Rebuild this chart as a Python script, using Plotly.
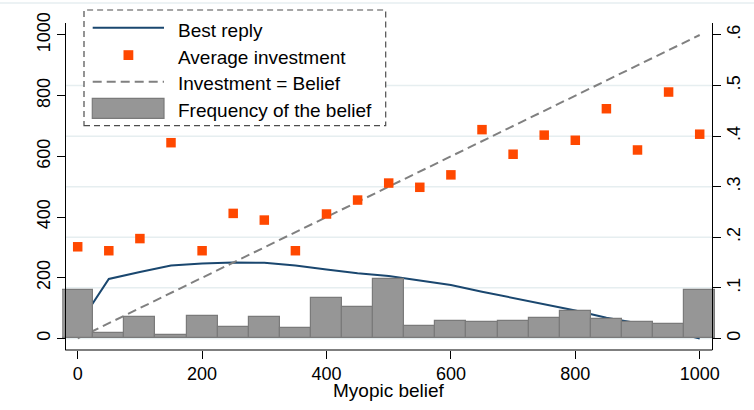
import plotly.graph_objects as go

# ---- data -------------------------------------------------------------
belief = [0, 50, 100, 150, 200, 250, 300, 350, 400, 450, 500,
          550, 600, 650, 700, 750, 800, 850, 900, 950, 1000]
best_reply = [40, 196, 219, 240, 247, 250, 249, 240, 227, 215, 206,
              192, 176, 154, 133, 113, 92, 68, 50, 25, 0]
avg_investment = [302, 289, 329, 645, 289, 412, 390, 289, 410, 456, 512,
                  498, 539, 688, 607, 670, 653, 757, 621, 812, 673]
belief_freq = [0.096, 0.0115, 0.042, 0.0075, 0.0445, 0.022, 0.0425, 0.020,
               0.0795, 0.062, 0.118, 0.0247, 0.0346, 0.0326, 0.0346, 0.040,
               0.054, 0.0385, 0.032, 0.0287, 0.095]
diag = [0, 1000]

x_ticks = [0, 200, 400, 600, 800, 1000]
left_ticks = [0, 200, 400, 600, 800, 1000]
right_ticks = [0, 0.1, 0.2, 0.3, 0.4, 0.5, 0.6]
right_tick_labels = ["0", ".1", ".2", ".3", ".4", ".5", ".6"]
grid_levels = [0, 0.1, 0.2, 0.3, 0.4, 0.5]
legend_labels = ["Best reply", "Average investment",
                 "Investment = Belief", "Frequency of the belief"]
x_title = "Myopic belief"

# ---- style ------------------------------------------------------------
NAVY = "#1a476f"
ORANGE = "#ff4800"
DASH_GRAY = "#808080"
BAR_FILL = "#969696"
BAR_EDGE = "#7a7a7a"
GRID = "#e6eef0"
FONT = "Liberation Sans, Arial, sans-serif"

W, H = 754, 410
ML, MR, MT, MB = 62, 38, 23, 60
PW, PH = W - ML - MR, H - MT - MB


def px(x):
    return (x - ML) / PW


def py(y):
    return (H - MB - y) / PH


left_pos = px(65.2)
right_pos = px(712.3)

fig = go.Figure()

fig.add_trace(go.Scatter(x=belief, y=best_reply, mode="lines",
                         line=dict(color=NAVY, width=2), showlegend=False,
                         yaxis="y"))
fig.add_trace(go.Scatter(x=diag, y=diag, mode="lines",
                         line=dict(color=DASH_GRAY, width=2, dash="9px,5px"),
                         showlegend=False, yaxis="y"))
fig.add_trace(go.Scatter(x=belief, y=avg_investment, mode="markers",
                         marker=dict(symbol="square", size=9.5, color=ORANGE,
                                     line=dict(width=0)),
                         showlegend=False, yaxis="y"))
fig.add_trace(go.Bar(x=belief, y=belief_freq, width=50, yaxis="y2",
                     marker=dict(color=BAR_FILL,
                                 line=dict(color=BAR_EDGE, width=1.2)),
                     showlegend=False))

shapes = []
# light gridlines on the right-axis levels
for g in grid_levels:
    shapes.append(dict(type="line", xref="paper", yref="y2",
                       x0=left_pos, x1=right_pos, y0=g, y1=g,
                       line=dict(color=GRID, width=1.5), layer="below"))
# faint rule along the top of the graph region
shapes.append(dict(type="line", xref="paper", yref="paper",
                   x0=px(0), x1=px(W), y0=py(3), y1=py(3),
                   line=dict(color=GRID, width=1.5), layer="below"))
# bottom axis line between the two vertical axes
shapes.append(dict(type="line", xref="paper", yref="paper",
                   x0=left_pos, x1=right_pos, y0=0, y1=0,
                   line=dict(color="black", width=1.2)))

# legend box with dashed frame
shapes.append(dict(type="rect", xref="paper", yref="paper",
                   x0=px(84), x1=px(385.7), y0=py(125.7), y1=py(10),
                   fillcolor="white",
                   line=dict(color="#4d4d4d", width=1.2, dash="6px,4px")))
# legend keys
shapes.append(dict(type="line", xref="paper", yref="paper",
                   x0=px(92.7), x1=px(164), y0=py(27.7), y1=py(27.7),
                   line=dict(color=NAVY, width=2)))
shapes.append(dict(type="rect", xref="paper", yref="paper",
                   x0=px(123.5), x1=px(133.3), y0=py(60), y1=py(50.2),
                   fillcolor=ORANGE, line=dict(width=0)))
shapes.append(dict(type="line", xref="paper", yref="paper",
                   x0=px(92.7), x1=px(164), y0=py(81.7), y1=py(81.7),
                   line=dict(color=DASH_GRAY, width=2, dash="9px,5px")))
shapes.append(dict(type="rect", xref="paper", yref="paper",
                   x0=px(92.3), x1=px(164), y0=py(118.3), y1=py(98.3),
                   fillcolor=BAR_FILL, line=dict(color=BAR_EDGE, width=1.2)))

row_y = [29.7, 56.5, 82.5, 109.7]
annotations = []
for label, ry in zip(legend_labels, row_y):
    annotations.append(dict(text=label, xref="paper", yref="paper",
                            x=px(176), y=py(ry + 1), xanchor="left",
                            yanchor="middle", showarrow=False,
                            font=dict(family=FONT, size=19, color="black")))
# x-axis title
annotations.append(dict(text=x_title, xref="paper", yref="paper",
                        x=(left_pos + right_pos) / 2, y=py(390),
                        xanchor="center", yanchor="middle", showarrow=False,
                        font=dict(family=FONT, size=19, color="black")))

axis_common = dict(ticks="outside", ticklen=8, tickwidth=1.2,
                   tickcolor="black", showgrid=False, zeroline=False,
                   automargin=False,
                   tickfont=dict(family=FONT, size=18, color="black"))

fig.update_layout(
    width=W, height=H,
    margin=dict(l=ML, r=MR, t=MT, b=MB, pad=0),
    plot_bgcolor="white", paper_bgcolor="white",
    showlegend=False,
    bargap=0,
    shapes=shapes,
    annotations=annotations,
    xaxis=dict(range=[-25.24, 1026.2], tickvals=x_ticks,
               showline=False, ticklabelstandoff=-1, **axis_common),
    yaxis=dict(range=[-38.2, 1039.5], tickvals=left_ticks, tickangle=-90,
               anchor="free", position=left_pos, side="left",
               showline=True, linecolor="black", linewidth=1.2,
               **axis_common),
    yaxis2=dict(range=[-0.02292, 0.6237], tickvals=right_ticks,
                ticktext=right_tick_labels, tickangle=-90,
                overlaying="y", anchor="free", position=right_pos,
                side="right", showline=True, linecolor="black",
                linewidth=1.2, ticklabelstandoff=-3, **axis_common),
)

fig.write_html("out.html")
